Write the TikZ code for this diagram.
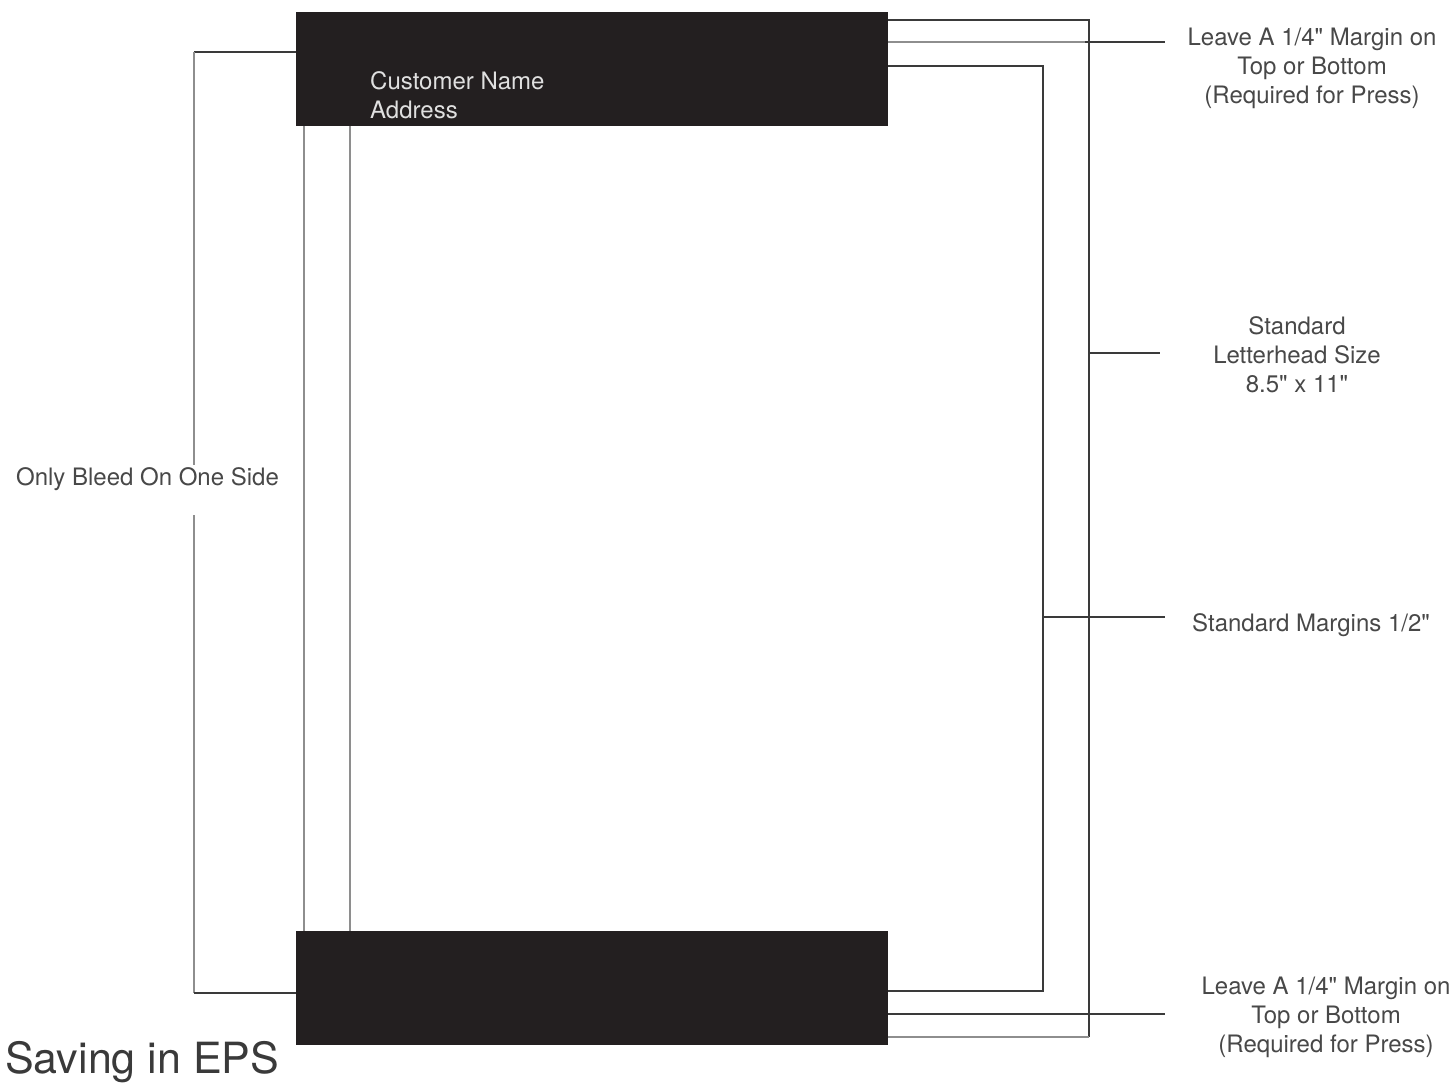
\documentclass[tikz,border=0pt]{standalone}
\usepackage{fontspec}
\setmainfont{TeX Gyre Heros}[Ligatures=TeXOff]
\usetikzlibrary{positioning}
\definecolor{barblack}{HTML}{231F20}
\definecolor{ink}{HTML}{3A3A3A}
\definecolor{rulegray}{HTML}{8E8E8E}
\definecolor{txtgray}{HTML}{484848}

\begin{document}
\begin{tikzpicture}[
    x=1pt, y=-1pt,
    bar/.style={fill=barblack, minimum width=592pt, minimum height=114pt, inner sep=0pt},
    dk/.style={draw=ink, line width=2.4pt},
    gr/.style={draw=rulegray, line width=2.8pt},
    note/.style={text=txtgray, font=\fontsize{24}{29}\selectfont, align=center, inner sep=0pt},
]
\useasboundingbox (0,0) rectangle (1456,1082);

% black header and footer bands
\node[bar] (topbar) at (592,69) {};
\node[bar] (botbar) at (592,988) {};
\node[note, text=white!88!black, align=left, anchor=north west] (cust) at (370,71) {Customer Name\\Address};

% labels
\node[note, anchor=north] (toplbl) at (1312,28) {Leave A 1/4" Margin on\\Top or Bottom\\(Required for Press)};
\node[note, anchor=north] (sizelbl) at (1297,316) {Standard\\Letterhead Size\\8.5" x 11"};
\node[note, anchor=base west] (marglbl) at (1192,631) {Standard Margins 1/2"};
\node[note, anchor=north] (botlbl) at (1326,977) {Leave A 1/4" Margin on\\Top or Bottom\\(Required for Press)};
\node[note, anchor=base west] (bleedlbl) at (16,485) {Only Bleed On One Side};
\node[text=ink, font=\fontsize{43}{50}\selectfont, inner sep=0pt, anchor=base west] (title) at (5,1073) {Saving in EPS};

% letterhead size
\coordinate (sizetr) at (1089,20);
\coordinate (sizebr) at (1089,1037);
\coordinate (sizeend) at (1160,353);
\draw[dk] (topbar.east |- sizetr) -- (sizetr) -- (sizebr);
\draw[gr] (sizebr) -- (botbar.east |- sizebr);
\draw[dk] (sizeend -| sizetr) -- (sizeend);

% 1/4 inch margins
\coordinate (topend) at (1165,42);
\coordinate (botend) at (1165,1014);
\draw[gr] (topbar.east |- topend) -- (1085,42);
\draw[dk] (1085,42) -- (topend);
\draw[dk] (botbar.east |- botend) -- (botend);

% standard margins
\coordinate (margtr) at (1043,66);
\coordinate (margbr) at (1043,991);
\coordinate (margend) at (1165,617);
\draw[dk] (topbar.east |- margtr) -- (margtr) -- (margbr) -- (botbar.east |- margbr);
\draw[dk] (margend -| margtr) -- (margend);

% bleed edge
\draw[gr] (topbar.south -| 304,0) -- (botbar.north -| 304,0);
\draw[gr] (topbar.south -| 350,0) -- (botbar.north -| 350,0);
\coordinate (bleedtop) at (194,52);
\coordinate (bleedbot) at (194,993);
\draw[dk] (topbar.west |- bleedtop) -- (bleedtop);
\draw[gr] (bleedtop) -- (194,465);
\draw[gr] (194,515) -- (bleedbot);
\draw[dk] (bleedbot) -- (botbar.west |- bleedbot);
\end{tikzpicture}
\end{document}
